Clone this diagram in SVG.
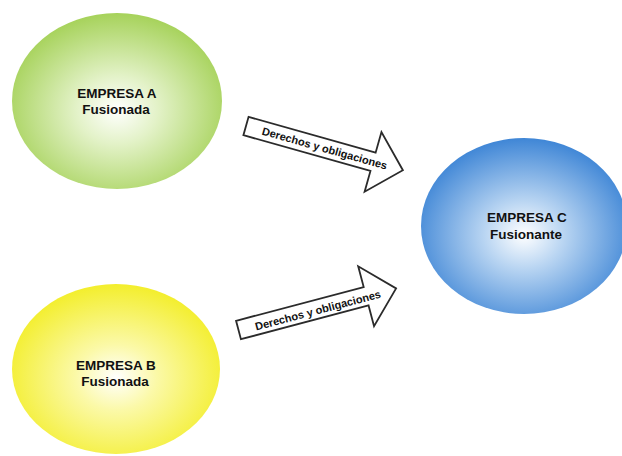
<svg xmlns="http://www.w3.org/2000/svg" width="622" height="456" viewBox="0 0 622 456">
<style>
.lbl{font-family:"Liberation Sans",Arial,sans-serif;font-weight:bold;font-size:13.5px;fill:#111;text-anchor:middle}
.arr{fill:#fff;stroke:#2b2b2b;stroke-width:1.8;stroke-linejoin:miter}
.atx{font-family:"Liberation Sans",Arial,sans-serif;font-weight:bold;font-size:11px;fill:#111}
</style>
<defs>
<radialGradient id="gA" cx="50%" cy="55%" r="55%">
<stop offset="0" stop-color="#ffffff"/>
<stop offset="0.35" stop-color="#e3f2c8"/>
<stop offset="1" stop-color="#a6d25a"/>
</radialGradient>
<radialGradient id="gB" cx="50%" cy="55%" r="55%">
<stop offset="0" stop-color="#ffffff"/>
<stop offset="0.35" stop-color="#fbf9a8"/>
<stop offset="1" stop-color="#f3ee2c"/>
</radialGradient>
<radialGradient id="gC" cx="50%" cy="55%" r="55%">
<stop offset="0" stop-color="#ffffff"/>
<stop offset="0.35" stop-color="#b9d5f2"/>
<stop offset="1" stop-color="#3f86d6"/>
</radialGradient>
<path id="arrowShape" d="M0,-9.5 L132,-9.5 L132,-31 L163,0 L132,31 L132,9.5 L0,9.5 Z"/>
</defs>
<rect width="622" height="456" fill="#fff"/>
<g id="empresaA">
<ellipse cx="117" cy="101" rx="105" ry="88" fill="url(#gA)"/>
<text class="lbl" x="117" y="98">EMPRESA A</text>
<text class="lbl" x="116" y="114">Fusionada</text>
</g>
<g id="empresaB">
<ellipse cx="116" cy="369" rx="104" ry="85" fill="url(#gB)"/>
<text class="lbl" x="116" y="370">EMPRESA B</text>
<text class="lbl" x="115" y="386">Fusionada</text>
</g>
<g id="empresaC">
<ellipse cx="524" cy="226" rx="103" ry="88" fill="url(#gC)"/>
<text class="lbl" x="527" y="222">EMPRESA C</text>
<text class="lbl" x="526" y="239">Fusionante</text>
</g>
<g id="connectors">
<g transform="translate(246,126) rotate(15.75)">
<use href="#arrowShape" class="arr"/>
<text class="atx" x="17" y="4">Derechos y obligaciones</text>
</g>
<g transform="translate(238.5,330) rotate(-14.8)">
<use href="#arrowShape" class="arr"/>
<text class="atx" x="17" y="5">Derechos y obligaciones</text>
</g>
</g>
</svg>
